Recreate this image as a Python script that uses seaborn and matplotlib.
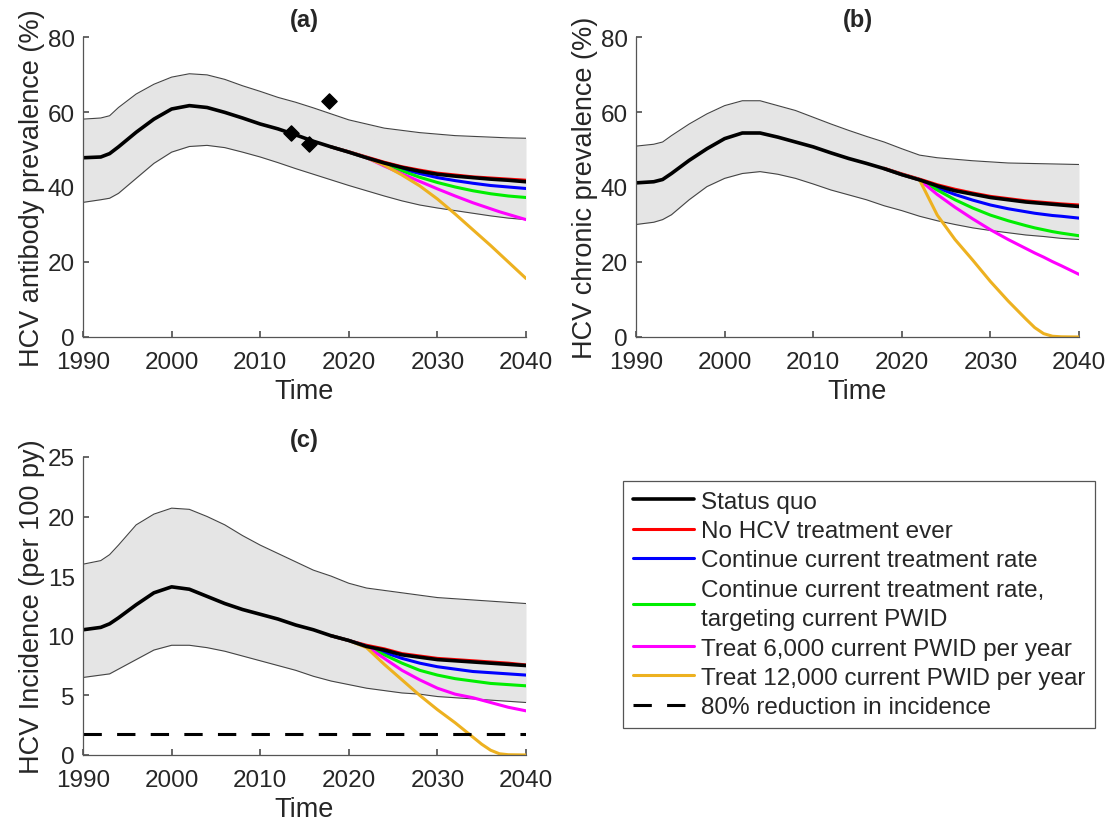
import numpy as np
import pandas as pd
import matplotlib
matplotlib.use("Agg")
import matplotlib.pyplot as plt
import seaborn as sns

# ---- data ----
years = [1990, 1992, 1993, 1994, 1996, 1998, 2000, 2002, 2004, 2006, 2008, 2010,
         2012, 2014, 2016, 2018, 2020, 2022, 2024, 2026, 2028, 2030, 2032, 2034,
         2036, 2038, 2040]
proj_years = [2018, 2020, 2022, 2024, 2026, 2028, 2030, 2032, 2034, 2035, 2036,
              2037, 2038, 2040]

# (a) antibody prevalence
ab_mid = [47.8, 48.0, 48.9, 50.7, 54.6, 58.1, 60.8, 61.7, 61.2, 59.9, 58.4, 56.8,
          55.5, 53.9, 52.2, 50.7, 49.3, 47.8, 46.4, 45.2, 44.2, 43.4, 42.9, 42.5,
          42.1, 41.8, 41.4]
ab_hi = [58.1, 58.4, 59.0, 61.2, 64.8, 67.4, 69.3, 70.2, 69.9, 68.7, 67.0, 65.5,
         63.9, 62.6, 61.1, 59.5, 57.9, 56.8, 55.7, 55.1, 54.5, 54.1, 53.7, 53.5,
         53.3, 53.1, 53.0]
ab_lo = [35.9, 36.6, 37.0, 38.3, 42.3, 46.3, 49.3, 50.8, 51.1, 50.5, 49.3, 48.0,
         46.5, 44.9, 43.4, 41.9, 40.4, 39.0, 37.6, 36.3, 35.2, 34.4, 33.7, 33.0,
         32.3, 31.7, 31.3]
ab_none = [50.7, 49.4, 48.0, 46.6, 45.4, 44.5, 43.7, 43.2, 42.7, 42.55, 42.4, 42.25, 42.1, 41.8]
ab_curr = [50.7, 49.3, 47.8, 46.2, 44.8, 43.6, 42.5, 41.7, 41.0, 40.7, 40.4, 40.2, 40.0, 39.6]
ab_targ = [50.7, 49.3, 47.8, 46.0, 44.3, 42.6, 41.2, 40.0, 39.0, 38.6, 38.2, 37.9, 37.6, 37.2]
ab_6k = [50.7, 49.3, 47.8, 45.6, 43.5, 41.5, 39.5, 37.6, 35.8, 35.0, 34.2, 33.4, 32.7, 31.3]
ab_12k = [50.7, 49.3, 47.8, 45.8, 43.2, 40.3, 36.8, 32.8, 28.6, 26.5, 24.4, 22.2, 20.0, 15.6]
obs_years = [2013.5, 2015.5, 2017.8]
obs_ab = [54.4, 51.5, 63.0]

# (b) chronic prevalence
ch_mid = [41.1, 41.4, 42.0, 43.6, 47.1, 50.2, 52.9, 54.4, 54.4, 53.3, 52.0, 50.7,
          49.1, 47.6, 46.3, 44.9, 43.3, 41.9, 40.3, 39.0, 38.1, 37.2, 36.6, 36.0,
          35.6, 35.2, 34.8]
ch_hi = [50.9, 51.4, 52.0, 53.7, 56.8, 59.5, 61.7, 63.0, 63.0, 61.7, 60.4, 58.6,
         56.8, 55.1, 53.5, 52.0, 50.2, 48.5, 47.8, 47.4, 47.0, 46.7, 46.4, 46.3,
         46.2, 46.1, 46.0]
ch_lo = [30.0, 30.6, 31.3, 32.6, 36.6, 40.1, 42.3, 43.6, 44.1, 43.4, 42.3, 40.8,
         39.2, 37.9, 36.6, 35.0, 33.7, 32.2, 31.0, 30.0, 29.1, 28.4, 27.8, 27.2,
         26.8, 26.3, 26.0]
ch_none = [45.0, 43.5, 42.1, 40.6, 39.4, 38.4, 37.5, 36.9, 36.3, 36.1, 35.9, 35.7, 35.5, 35.2]
ch_curr = [44.9, 43.3, 41.9, 39.8, 38.0, 36.5, 35.2, 34.2, 33.4, 33.0, 32.7, 32.4, 32.2, 31.7]
ch_targ = [44.9, 43.3, 41.9, 39.2, 36.6, 34.4, 32.5, 31.0, 29.7, 29.1, 28.6, 28.1, 27.7, 27.0]
ch_6k = [44.9, 43.3, 41.9, 38.0, 34.6, 31.5, 28.6, 26.0, 23.6, 22.4, 21.3, 20.1, 19.0, 16.7]
ch_12k = [44.9, 43.3, 41.9, 32.5, 26.0, 20.5, 14.8, 9.6, 4.8, 2.5, 0.9, 0.2, 0.05, 0.0]

# (c) incidence
in_mid = [10.5, 10.7, 11.0, 11.5, 12.6, 13.6, 14.1, 13.9, 13.3, 12.7, 12.2, 11.8,
          11.4, 10.9, 10.5, 10.0, 9.6, 9.1, 8.8, 8.4, 8.2, 8.0, 7.9, 7.8, 7.7,
          7.6, 7.5]
in_hi = [16.0, 16.3, 16.8, 17.6, 19.3, 20.2, 20.7, 20.6, 20.0, 19.3, 18.4, 17.6,
         16.9, 16.2, 15.5, 15.0, 14.4, 14.0, 13.8, 13.6, 13.4, 13.2, 13.1, 13.0,
         12.9, 12.8, 12.7]
in_lo = [6.5, 6.7, 6.8, 7.2, 8.0, 8.8, 9.2, 9.2, 9.0, 8.7, 8.3, 7.9, 7.5, 7.1,
         6.6, 6.2, 5.9, 5.6, 5.4, 5.2, 5.1, 4.9, 4.8, 4.7, 4.6, 4.5, 4.4]
in_none = [10.0, 9.6, 9.2, 8.9, 8.5, 8.3, 8.1, 8.0, 7.9, 7.85, 7.8, 7.75, 7.7, 7.55]
in_curr = [10.0, 9.6, 9.1, 8.6, 8.1, 7.7, 7.4, 7.2, 7.0, 6.95, 6.9, 6.85, 6.8, 6.7]
in_targ = [10.0, 9.6, 9.1, 8.4, 7.7, 7.1, 6.7, 6.4, 6.2, 6.1, 6.0, 5.95, 5.9, 5.8]
in_6k = [10.0, 9.6, 9.1, 8.1, 7.1, 6.3, 5.6, 5.1, 4.8, 4.6, 4.4, 4.2, 4.0, 3.7]
in_12k = [10.0, 9.6, 9.0, 7.6, 6.3, 5.0, 3.8, 2.7, 1.5, 0.9, 0.4, 0.1, 0.02, 0.0]
target_80 = 1.8

scen_labels = ["No HCV treatment ever", "Continue current treatment rate",
               "Continue current treatment rate,\ntargeting current PWID",
               "Treat 6,000 current PWID per year",
               "Treat 12,000 current PWID per year"]
scen_colors = ["#ff0000", "#0000ff", "#00ee00", "#ff00ff", "#edb120"]

sns.set_theme(style="ticks")
plt.rcParams["font.family"] = ["Liberation Sans", "DejaVu Sans"]


def draw_panel(ax, mid, lo, hi, scen, ylim, yticks, ylabel, title):
    ax.fill_between(years, lo, hi, color="#e5e5e5", linewidth=0)
    ax.plot(years, hi, color="#444444", lw=0.8)
    ax.plot(years, lo, color="#444444", lw=0.8)
    for vals, lab, col in zip(scen, scen_labels, scen_colors):
        sns.lineplot(x=proj_years, y=vals, ax=ax, color=col, lw=2.2, label=lab)
    sns.lineplot(x=years, y=mid, ax=ax, color="black", lw=2.6, label="Status quo")
    ax.set_xlim(1990, 2040)
    ax.set_ylim(*ylim)
    ax.set_xticks(range(1990, 2041, 10))
    ax.set_yticks(yticks)
    ax.set_xlabel("Time", fontsize=19.5, labelpad=4)
    ax.set_ylabel(ylabel, fontsize=19.5, labelpad=2)
    ax.set_title(title, fontsize=17, fontweight="bold", pad=8)
    ax.tick_params(direction="in", length=4, labelsize=17.5, color="#555555")
    ax.tick_params(axis="x", pad=10)
    ax.tick_params(axis="y", pad=6)
    for s in ["left", "bottom"]:
        ax.spines[s].set_color("#555555")
        ax.spines[s].set_linewidth(0.9)
    sns.despine(ax=ax)
    ax.get_legend().remove()


fig = plt.figure(figsize=(11.1, 8.28), dpi=100)
ax_a = fig.add_axes([0.0748, 0.5918, 0.3991, 0.3623])
ax_b = fig.add_axes([0.5730, 0.5918, 0.3991, 0.3623])
ax_c = fig.add_axes([0.0748, 0.0870, 0.3991, 0.3600])

draw_panel(ax_a, ab_mid, ab_lo, ab_hi, [ab_none, ab_curr, ab_targ, ab_6k, ab_12k],
           (0, 80), [0, 20, 40, 60, 80], "HCV antibody prevalence (%)", "(a)")
ax_a.scatter(obs_years, obs_ab, marker="D", s=60, color="black", zorder=5)

draw_panel(ax_b, ch_mid, ch_lo, ch_hi, [ch_none, ch_curr, ch_targ, ch_6k, ch_12k],
           (0, 80), [0, 20, 40, 60, 80], "HCV chronic prevalence (%)", "(b)")

draw_panel(ax_c, in_mid, in_lo, in_hi, [in_none, in_curr, in_targ, in_6k, in_12k],
           (0, 25), [0, 5, 10, 15, 20, 25], "HCV Incidence (per 100 py)", "(c)")
ax_c.axhline(target_80, color="black", lw=2.2, ls=(0, (6, 5)),
             label="80% reduction in incidence")

handles, labels = ax_c.get_legend_handles_labels()
order = [labels.index("Status quo")] + [labels.index(l) for l in scen_labels] + \
        [labels.index("80% reduction in incidence")]
leg = fig.legend([handles[i] for i in order], [labels[i] for i in order],
                 loc="upper left", bbox_to_anchor=(0.5613, 0.4179),
                 fontsize=17.5, frameon=True, fancybox=False, framealpha=1,
                 edgecolor="#555555", handlelength=2.5, handletextpad=0.3,
                 labelspacing=0.3, borderpad=0.4, borderaxespad=0)
leg.get_frame().set_linewidth(0.9)
for t in leg.get_texts():
    t.set_linespacing(1.45)

fig.savefig("out.png", dpi=100)
